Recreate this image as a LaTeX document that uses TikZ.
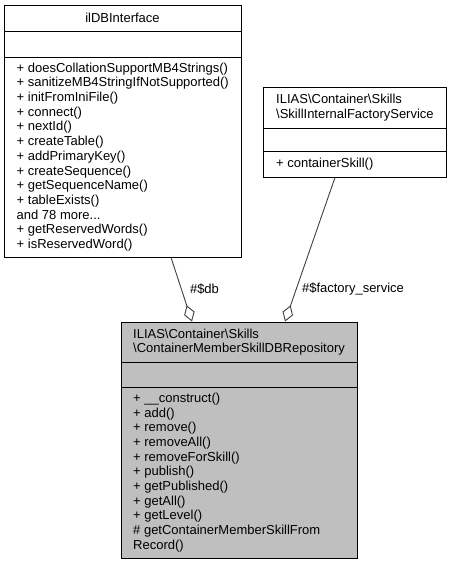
\documentclass[tikz,border=0pt]{standalone}
\usepackage{fontspec}
\setmainfont{Liberation Sans}
\usetikzlibrary{arrows.meta}
\definecolor{boxgray}{HTML}{BFBFBF}
\definecolor{edgegray}{HTML}{404040}
\begin{document}
\begin{tikzpicture}[x=1pt,y=-1pt,
  box/.style={draw=black, line width=1pt, rectangle, inner sep=0pt, outer sep=0pt, anchor=north west},
  divider/.style={draw=black, line width=1pt},
  txt/.style={font=\fontsize{13}{14.7}\selectfont, align=left, inner sep=0pt, anchor=west},
  ttl/.style={font=\fontsize{13}{14.7}\selectfont, align=center, inner sep=0pt},
  lbl/.style={font=\fontsize{13}{14.7}\selectfont, inner sep=0pt},
  assoc/.style={draw=edgegray, line width=0.9pt, {Diamond[open,fill=white,length=17pt,width=11pt]}-}]
\useasboundingbox (0,0) rectangle (453,565);

% ilDBInterface
\node[box, minimum width=237pt, minimum height=252pt] (b1) at (4,5) {};
\draw[divider] (4,31) -- (241,31);
\draw[divider] (4,57) -- (241,57);
\node[ttl] (t1) at (122.5,18) {ilDBInterface};
\node[txt] (m1) at (16.5,157) {+ doesCollationSupportMB4Strings()\\
+ sanitizeMB4StringIfNotSupported()\\
+ initFromIniFile()\\
+ connect()\\
+ nextId()\\
+ createTable()\\
+ addPrimaryKey()\\
+ createSequence()\\
+ getSequenceName()\\
+ tableExists()\\
and 78 more...\\
+ getReservedWords()\\
+ isReservedWord()};

% SkillInternalFactoryService
\node[box, minimum width=183pt, minimum height=90pt] (b2) at (263,87) {};
\draw[divider] (263,128) -- (446,128);
\draw[divider] (263,151) -- (446,151);
\node[txt] (t2) at (276,107.5) {ILIAS\textbackslash Container\textbackslash Skills\\
\textbackslash SkillInternalFactoryService};
\node[txt] (m2) at (276,164) {+ containerSkill()};

% ContainerMemberSkillDBRepository
\node[box, fill=boxgray, minimum width=236pt, minimum height=236pt] (b3) at (121,322) {};
\draw[divider] (121,362) -- (357,362);
\draw[divider] (121,387) -- (357,387);
\node[txt] (t3) at (133,342) {ILIAS\textbackslash Container\textbackslash Skills\\
\textbackslash ContainerMemberSkillDBRepository};
\node[txt] (m3) at (133,472.5) {+ \_\_construct()\\
+ add()\\
+ remove()\\
+ removeAll()\\
+ removeForSkill()\\
+ publish()\\
+ getPublished()\\
+ getAll()\\
+ getLevel()\\
\# getContainerMemberSkillFrom\\
Record()};

% connectors
\coordinate (s1) at (171,257.5);
\coordinate (e1) at (192,321.5);
\coordinate (s2) at (335,177.5);
\coordinate (e2) at (285,321.5);
\draw[assoc] (e1) -- (s1);
\draw[assoc] (e2) -- (s2);
\node[lbl] (l1) at (204.5,289) {\#\$db};
\node[lbl] (l2) at (353,289) {\#\$factory\_service};
\end{tikzpicture}
\end{document}
